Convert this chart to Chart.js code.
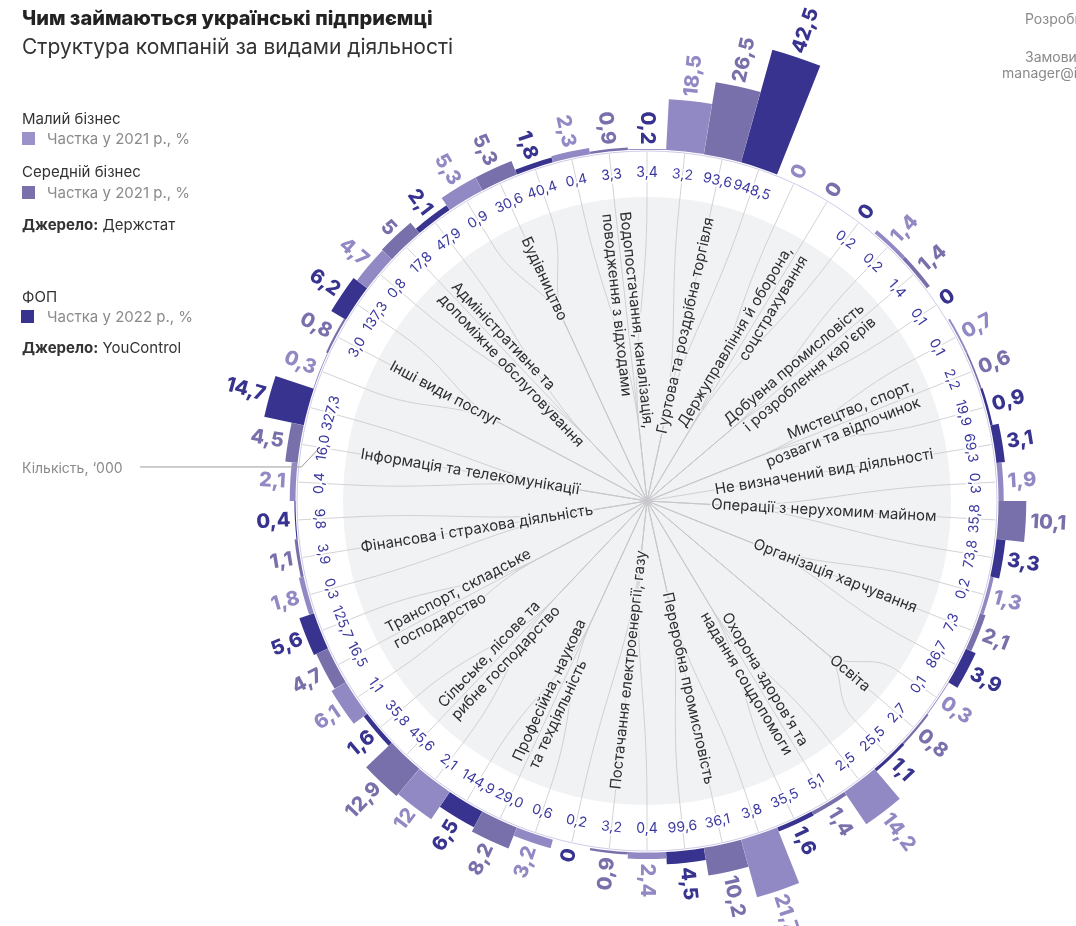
<!DOCTYPE html>
<html><head><meta charset="utf-8">
<script src="https://cdn.jsdelivr.net/npm/chart.js@4"></script>
<style>
html,body{margin:0;padding:0;background:#fff;}
#wrap{position:relative;width:1076px;height:926px;overflow:hidden;font-family:Inter,"Open Sans",sans-serif;}
#c{position:absolute;left:0;top:0;}
.t{position:absolute;white-space:nowrap;line-height:1;}
.sq{position:absolute;width:13px;height:13px;}
</style></head><body>
<div id="wrap">
<canvas id="c" width="1076" height="926"></canvas>
<div class="t" style="left:22px;top:8px;font-size:20px;font-weight:800;color:#222">Чим займаються українські підприємці</div>
<div class="t" style="left:22px;top:36px;font-size:21px;color:#333">Структура компаній за видами діяльності</div>
<div class="t" style="left:22px;top:111px;font-size:15px;color:#333">Малий бізнес</div>
<div class="sq" style="left:22px;top:132px;background:#9a92c9"></div>
<div class="t" style="left:47px;top:131px;font-size:15px;color:#8a8a8a">Частка у 2021 р., %</div>
<div class="t" style="left:22px;top:164px;font-size:15px;color:#333">Середній бізнес</div>
<div class="sq" style="left:22px;top:186px;background:#7a71ac"></div>
<div class="t" style="left:47px;top:185px;font-size:15px;color:#8a8a8a">Частка у 2021 р., %</div>
<div class="t" style="left:22px;top:217px;font-size:15px;color:#333"><b>Джерело:</b> Держстат</div>
<div class="t" style="left:22px;top:289px;font-size:15px;color:#333">ФОП</div>
<div class="sq" style="left:21px;top:310px;background:#37338f"></div>
<div class="t" style="left:47px;top:309px;font-size:15px;color:#8a8a8a">Частка у 2022 р., %</div>
<div class="t" style="left:22px;top:340px;font-size:15px;color:#333"><b>Джерело:</b> YouControl</div>
<div class="t" style="left:22px;top:461px;font-size:14px;color:#8a8a8a">Кількість, ‘000</div>
<div class="t" style="left:1025px;top:12px;font-size:14px;color:#8a8a8a">Розробка інфографіки</div>
<div class="t" style="left:1025px;top:50px;font-size:14px;color:#8a8a8a">Замовити інфографіку:</div>
<div class="t" style="left:1002px;top:66px;font-size:14px;color:#8a8a8a">manager@infographics.ua</div>
</div>
<script>
// ---- DATA ----
const categories = [
  "Гуртова та роздрібна торгівля",
  "Держуправління й оборона,\nсоцстрахування",
  "Добувна промисловість\nі розроблення кар'єрів",
  "Мистецтво, спорт,\nрозваги та відпочинок",
  "Не визначений вид діяльності",
  "Операції з нерухомим майном",
  "Організація харчування",
  "Освіта",
  "Охорона здоров'я та\nнадання соцдопомоги",
  "Переробна промисловість",
  "Постачання електроенергії, газу",
  "Професійна, наукова\nта техдіяльність",
  "Сільське, лісове та\nрибне господарство",
  "Транспорт, складське\nгосподарство",
  "Фінансова і страхова діяльність",
  "Інформація та телекомунікації",
  "Інші види послуг",
  "Адміністративне та\nдопоміжне обслуговування",
  "Будівництво",
  "Водопостачання, каналізація,\nповодження з відходами"
];
// shares, %
const smallShare  = [18.5, 0, 1.4, 0.7, null, 1.9, 1.3, 0.3, 14.2, 21.7, 2.4, 3.2, 12, 6.1, 1.8, 2.1, 0.3, 4.7, 5.3, 2.3];
const mediumShare = [26.5, 0, 1.4, 0.6, null, 10.1, 2.1, 0.8, 1.4, 10.2, 0.9, 8.2, 12.9, 4.7, 1.1, 4.5, 0.8, 5, 5.3, 0.9];
const fopShare    = [42.5, 0, 0, 0.9, 3.1, 3.3, 3.9, 1.1, 1.6, 4.5, 0, 6.5, 1.6, 5.6, 0.4, 14.7, 6.2, 2.1, 1.8, 0.2];
// counts, '000
const smallCount  = [3.2, null, 0.2, 0.1, null, 0.3, 0.2, 0.1, 2.5, 3.8, 0.4, 0.6, 2.1, 1.1, 0.3, 0.4, null, 0.8, 0.9, 0.4];
const mediumCount = [93.6, null, 1.4, 2.2, null, 35.8, 7.3, 2.7, 5.1, 36.1, 3.2, 29.0, 45.6, 16.5, 3.9, 16.0, 3.0, 17.8, 30.6, 3.3];
const fopCount    = [948.5, 0.2, 0.1, 19.9, 69.3, 73.8, 86.7, 25.5, 35.5, 99.6, 0.2, 144.9, 35.8, 125.7, 9.8, 327.3, 137.3, 47.9, 40.4, 3.4];
const seriesNames = ["Малий бізнес", "Середній бізнес", "ФОП"];

// ---- STYLE ----
const seriesColors = ["#9189c3", "#7870ab", "#37338f"];
const COUNT_COLOR = "#3b39a0";
const FONT = "Inter, 'Open Sans', sans-serif";
const BASE_R = 350, PX_PER_UNIT = 2.75, DRAW_R = 420;
const DISC_R = 304, COUNT_R = 328, LABEL_R = 290, VAL_GAP = 6;

// build bar list (skip missing series)
const bars = [];
categories.forEach((name, c) => {
  [[smallShare, smallCount], [mediumShare, mediumCount], [fopShare, fopCount]].forEach(([sh, ct], k) => {
    if (sh[c] === null) return;
    bars.push({cat: c, series: k, value: sh[c], count: ct[c]});
  });
});

const fmtVal = v => String(v).replace('.', ',');
const fmtCnt = v => v.toFixed(1).replace('.', ',');
const deg = a => { let t = a * 180 / Math.PI + 90; return ((t % 360) + 360) % 360; };

function geometry(chart) {
  const s = chart.scales.r;
  const els = chart.getDatasetMeta(0).data;
  const cx = s.xCenter, cy = s.yCenter;
  const P = (r, a) => [cx + r * Math.cos(a), cy + r * Math.sin(a)];
  const ctx = chart.ctx;
  ctx.save();
  ctx.font = "15px " + FONT;
  const cats = categories.map((name, c) => {
    const idx = bars.map((b, i) => b.cat === c ? i : -1).filter(i => i >= 0);
    const angs = idx.map(i => (els[i].startAngle + els[i].endAngle) / 2);
    const a = angs.reduce((p, q) => p + q, 0) / angs.length;
    const lines = name.split("\n");
    const w = Math.max(...lines.map(l => ctx.measureText(l).width));
    const rc = Math.max(40, LABEL_R - w - 8);
    return {a, lines, w, rc, idx};
  });
  ctx.restore();
  return {s, els, cx, cy, P, cats};
}

const radialPlugin = {
  id: 'radial',
  afterDatasetsUpdate(chart) {
    const s = chart.scales.r;
    const base = s.getDistanceFromCenterForValue(0);
    chart.getDatasetMeta(0).data.forEach(el => { el.innerRadius = base; });
  },
  beforeDatasetsDraw(chart) {
    const g = geometry(chart);
    const ctx = chart.ctx;
    const base = g.s.getDistanceFromCenterForValue(0);
    ctx.save();
    ctx.fillStyle = "#f1f2f4";
    ctx.beginPath(); ctx.arc(g.cx, g.cy, DISC_R, 0, Math.PI * 2); ctx.fill();
    ctx.strokeStyle = "#cfcbe7"; ctx.lineWidth = 1;
    ctx.beginPath(); ctx.arc(g.cx, g.cy, base, 0, Math.PI * 2); ctx.stroke();
    // connector lines
    ctx.strokeStyle = "#c8c8cc"; ctx.lineWidth = 0.8;
    g.els.forEach((el, i) => {
      const cat = g.cats[bars[i].cat];
      const a = (el.startAngle + el.endAngle) / 2;
      const A = g.P(base - 1, a), B = g.P(DISC_R - 4, a);
      const mid = DISC_R - 4 - (DISC_R - 4 - cat.rc) * 0.45;
      const c1 = g.P(mid, a), c2 = g.P(cat.rc + (DISC_R - cat.rc) * 0.4, cat.a);
      const C = g.P(cat.rc, cat.a);
      ctx.beginPath();
      ctx.moveTo(A[0], A[1]); ctx.lineTo(B[0], B[1]);
      ctx.bezierCurveTo(c1[0], c1[1], c2[0], c2[1], C[0], C[1]);
      ctx.lineTo(g.cx, g.cy);
      ctx.stroke();
    });
    ctx.restore();
  },
  afterDatasetsDraw(chart) {
    const g = geometry(chart);
    const ctx = chart.ctx;
    ctx.save();
    // counts
    ctx.font = "14px " + FONT; ctx.textAlign = "center"; ctx.textBaseline = "middle";
    g.els.forEach((el, i) => {
      const b = bars[i]; if (b.count == null) return;
      const a = (el.startAngle + el.endAngle) / 2;
      const th = deg(a);
      const rot = (th > 90 && th < 270) ? th - 180 : th;
      const [x, y] = g.P(COUNT_R, a);
      ctx.save(); ctx.translate(x, y); ctx.rotate(rot * Math.PI / 180);
      ctx.strokeStyle = "#fff"; ctx.lineWidth = 4; ctx.lineJoin = "round";
      ctx.strokeText(fmtCnt(b.count), 0, 0);
      ctx.fillStyle = COUNT_COLOR; ctx.fillText(fmtCnt(b.count), 0, 0);
      ctx.restore();
    });
    // category labels
    ctx.font = "15px " + FONT; ctx.textBaseline = "middle";
    g.cats.forEach(cat => {
      const th = deg(cat.a);
      const right = th > 0.5 && th <= 180.5;
      const rot = right ? th - 90 : th - 270;
      const [x, y] = g.P(LABEL_R, cat.a);
      ctx.save(); ctx.translate(x, y); ctx.rotate(rot * Math.PI / 180);
      ctx.textAlign = right ? "right" : "left";
      const n = cat.lines.length;
      cat.lines.forEach((l, k) => {
        const oy = (k - (n - 1) / 2) * 18;
        ctx.strokeStyle = "#f1f2f4"; ctx.lineWidth = 3; ctx.lineJoin = "round";
        ctx.strokeText(l, 0, oy);
        ctx.fillStyle = "#2e2e2e"; ctx.fillText(l, 0, oy);
      });
      ctx.restore();
    });
    // value labels
    ctx.font = "800 20px " + FONT; ctx.textBaseline = "middle";
    g.els.forEach((el, i) => {
      const b = bars[i];
      const a = (el.startAngle + el.endAngle) / 2;
      const th = deg(a);
      const right = th > 0.5 && th <= 180.5;
      const rot = right ? th - 90 : th - 270;
      const [x, y] = g.P(el.outerRadius + VAL_GAP, a);
      ctx.save(); ctx.translate(x, y); ctx.rotate(rot * Math.PI / 180);
      ctx.textAlign = right ? "left" : "right";
      ctx.fillStyle = seriesColors[b.series];
      ctx.fillText(fmtVal(b.value), 0, 0);
      ctx.restore();
    });
    // pointer for "Кількість, '000"
    const pi = bars.findIndex(b => b.cat === 15 && b.series === 1);
    const pel = g.els[pi];
    const pa = (pel.startAngle + pel.endAngle) / 2;
    const E = g.P(COUNT_R + 6, pa);
    ctx.strokeStyle = "#9a9a9a"; ctx.lineWidth = 1;
    ctx.beginPath(); ctx.moveTo(140, E[1] + 20); ctx.lineTo(E[0] - 16, E[1] + 20); ctx.lineTo(E[0], E[1] + 3); ctx.stroke();
    ctx.restore();
  }
};

new Chart(document.getElementById('c'), {
  type: 'polarArea',
  data: {
    labels: bars.map(b => categories[b.cat].replace("\n", " ") + " — " + seriesNames[b.series]),
    datasets: [{
      data: bars.map(b => b.value),
      backgroundColor: bars.map(b => seriesColors[b.series]),
      borderWidth: 0,
      spacing: 3,
      clip: false
    }]
  },
  options: {
    responsive: false,
    animation: false,
    events: [],
    layout: {padding: {left: 227, right: 9, top: 81, bottom: 5}},
    plugins: {legend: {display: false}, tooltip: {enabled: false}},
    scales: {
      r: {
        min: -BASE_R / PX_PER_UNIT,
        max: (DRAW_R - BASE_R) / PX_PER_UNIT,
        startAngle: 180 / bars.length,
        ticks: {display: false},
        grid: {display: false},
        angleLines: {display: false},
        pointLabels: {display: false}
      }
    }
  },
  plugins: [radialPlugin]
});
</script>
</body></html>
